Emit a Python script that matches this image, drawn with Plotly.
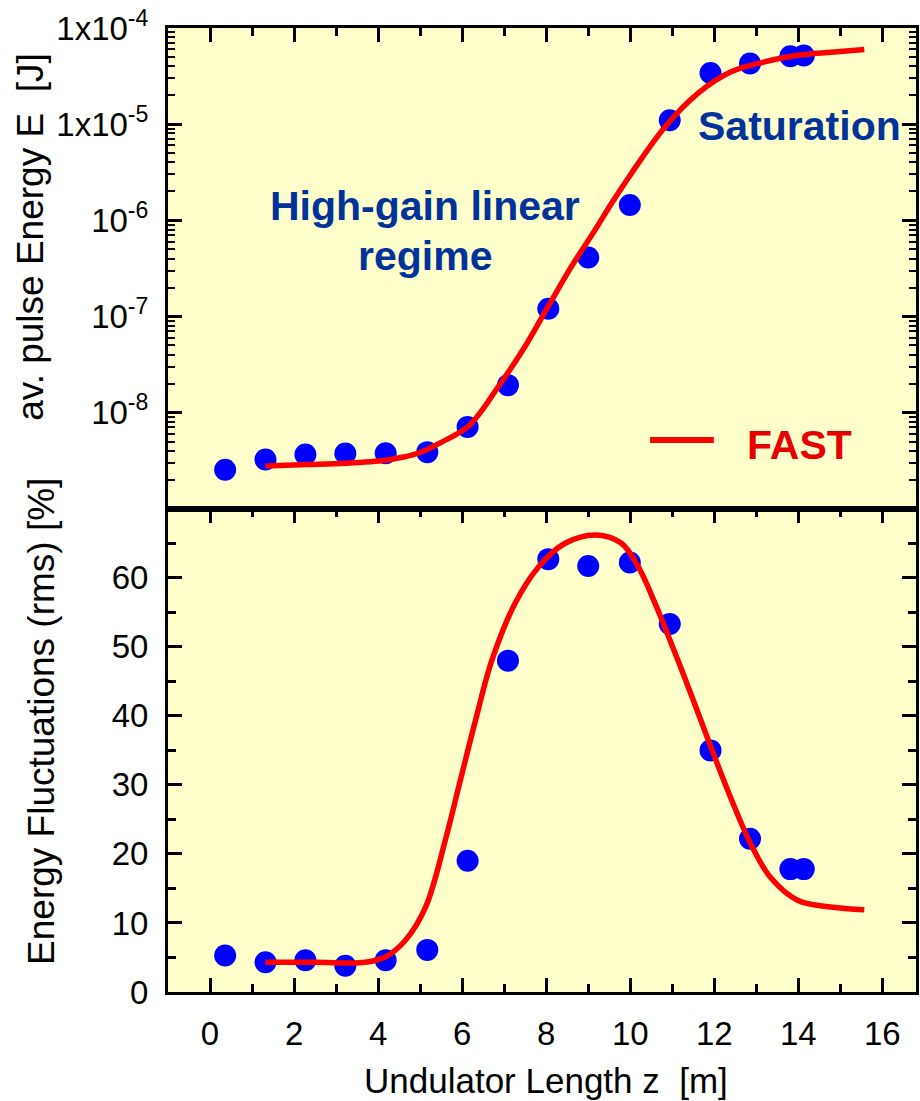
import plotly.graph_objects as go

# ---------------- data ----------------
z_meas = [0.36, 1.32, 2.27, 3.22, 4.18, 5.17, 6.13, 7.09, 8.05, 9.00, 9.99,
          10.94, 11.91, 12.85, 13.81, 14.13]
energy_meas = [2.54e-9, 3.25e-9, 3.66e-9, 3.76e-9, 3.78e-9, 3.88e-9, 7.1e-9,
               1.93e-8, 1.2e-7, 4.1e-7, 1.44e-6, 1.1e-5, 3.41e-5, 4.27e-5,
               5.08e-5, 5.18e-5]
fluct_meas = [5.3, 4.3, 4.6, 3.8, 4.6, 6.1, 19.0, 48.0, 62.7, 61.7, 62.2,
              53.3, 35.0, 22.2, 17.8, 17.8]

z_fast_e = [1.32, 2.3, 3.24, 4.18, 4.6, 5.0, 5.5, 6.16, 6.87, 7.5, 8.05, 8.61,
            9.16, 9.56, 10.03, 10.82, 11.61, 12.4, 13.2, 13.98, 14.78, 15.57]
energy_fast = [2.79e-9, 2.88e-9, 2.98e-9, 3.2e-9, 3.45e-9, 3.85e-9, 4.9e-9,
               7.3e-9, 1.89e-8, 4.9e-8, 1.28e-7, 3.36e-7, 7.9e-7, 1.51e-6,
               3.09e-6, 9.3e-6, 2.09e-5, 3.5e-5, 4.44e-5, 5.2e-5, 5.6e-5, 5.97e-5]

z_fast_f = [1.32, 2.5, 3.7, 4.18, 4.65, 5.13, 5.6, 5.95, 6.32, 6.71, 7.26,
            7.82, 8.45, 9.2, 9.79, 10.19, 10.59, 11.06, 11.53, 11.93, 12.4,
            12.88, 13.35, 13.98, 14.78, 15.57]
fluct_fast = [4.3, 4.3, 4.3, 5.1, 7.5, 12.3, 22.0, 30.5, 39.4, 48.1, 56.3,
              61.6, 65.0, 66.2, 65.0, 61.6, 56.3, 49.2, 41.8, 35.3, 28.0,
              21.3, 16.5, 13.3, 12.3, 11.9]

log_tickvals = [1e-8, 1e-7, 1e-6, 1e-5, 1e-4]
log_ticktext = ["10<sup>-8</sup>", "10<sup>-7</sup>", "10<sup>-6</sup>",
                "1x10<sup>-5</sup>", "1x10<sup>-4</sup>"]
lin_tickvals = [0, 10, 20, 30, 40, 50, 60]

FONT = "Liberation Sans, Arial, sans-serif"
BLUE_TXT = "#003399"
RED = "#FF0000"

fig = go.Figure()

# top panel (x2, y2)
fig.add_trace(go.Scatter(x=z_meas, y=energy_meas, mode="markers", xaxis="x2", yaxis="y2",
                         marker=dict(color="#0000FF", size=22), showlegend=False))
fig.add_trace(go.Scatter(x=z_fast_e, y=energy_fast, mode="lines", xaxis="x2", yaxis="y2",
                         line=dict(color=RED, width=5.5, shape="spline", smoothing=1.0),
                         showlegend=False))
# bottom panel (x, y)
fig.add_trace(go.Scatter(x=z_meas, y=fluct_meas, mode="markers", xaxis="x", yaxis="y",
                         marker=dict(color="#0000FF", size=22), showlegend=False))
fig.add_trace(go.Scatter(x=z_fast_f, y=fluct_fast, mode="lines", xaxis="x", yaxis="y",
                         line=dict(color=RED, width=5.5, shape="spline", smoothing=1.0),
                         showlegend=False))

minor_log = [m * 10.0 ** e for e in range(-9, -4) for m in range(2, 10)]

axis_common = dict(showline=True, linecolor="black", linewidth=3, showgrid=False,
                   zeroline=False, ticks="inside", tickcolor="black", tickwidth=2.5,
                   ticklen=14, tickfont=dict(family=FONT, size=33, color="black"))

fig.update_layout(
    width=920, height=1101,
    margin=dict(l=168, r=1, t=28, b=109),
    paper_bgcolor="white", plot_bgcolor="#FFFFCC",
    font=dict(family=FONT, color="black"),
    xaxis=dict(axis_common, range=[-1, 16.8], tick0=0, dtick=2, mirror="ticks",
               anchor="y", domain=[0, 1], ticklabelstandoff=10,
               minor=dict(dtick=1, ticks="inside", ticklen=8, tickwidth=2.5,
                          tickcolor="black", showgrid=False)),
    yaxis=dict(axis_common, range=[0, 70], tickmode="array", tickvals=lin_tickvals,
               mirror="ticks", domain=[0, 0.5013], anchor="x", ticklabelstandoff=10,
               minor=dict(dtick=5, ticks="inside", ticklen=8, tickwidth=2.5,
                          tickcolor="black", showgrid=False)),
    xaxis2=dict(axis_common, matches="x", range=[-1, 16.8], tick0=0, dtick=2,
                anchor="y2", side="top", mirror=True, showticklabels=False,
                minor=dict(dtick=1, ticks="inside", ticklen=8, tickwidth=2.5,
                           tickcolor="black", showgrid=False)),
    yaxis2=dict(axis_common, type="log", range=[-9, -4], tickmode="array",
                tickvals=log_tickvals, ticktext=log_ticktext, mirror="ticks",
                domain=[0.5013, 1], anchor="x2", ticklabelstandoff=10,
                minor=dict(tickmode="array", tickvals=minor_log, ticks="inside",
                           ticklen=7, tickwidth=2, tickcolor="black", showgrid=False)),
)

annotations = [
    dict(text="av. pulse Energy E\u00a0\u00a0[J]", x=-0.1838, y=0.783, textangle=-90,
         font=dict(size=37, family=FONT, color="black")),
    dict(text="Energy Fluctuations (rms) [%]", x=-0.170, y=0.281, textangle=-90,
         font=dict(size=37, family=FONT, color="black")),
    dict(text="Undulator Length z\u00a0\u00a0[m]", x=0.5047, y=-0.0915,
         font=dict(size=35, family=FONT, color="black")),
    dict(text="<b>High-gain linear</b>", x=0.3435, y=0.8154,
         font=dict(size=41, family=FONT, color=BLUE_TXT)),
    dict(text="<b>regime</b>", x=0.3435, y=0.7635,
         font=dict(size=41, family=FONT, color=BLUE_TXT)),
    dict(text="<b>Saturation</b>", x=0.8442, y=0.8983,
         font=dict(size=41, family=FONT, color=BLUE_TXT)),
    dict(text="<b>FAST</b>", x=0.8442, y=0.5674,
         font=dict(size=41, family=FONT, color="#E60000")),
]
for a in annotations:
    a.update(xref="paper", yref="paper", showarrow=False, xanchor="center", yanchor="middle")
fig.update_layout(annotations=annotations)

fig.add_shape(type="line", xref="paper", yref="paper", x0=0.6445, x1=0.7297,
              y0=0.5726, y1=0.5726, line=dict(color=RED, width=6))

fig.write_html("out.html")
